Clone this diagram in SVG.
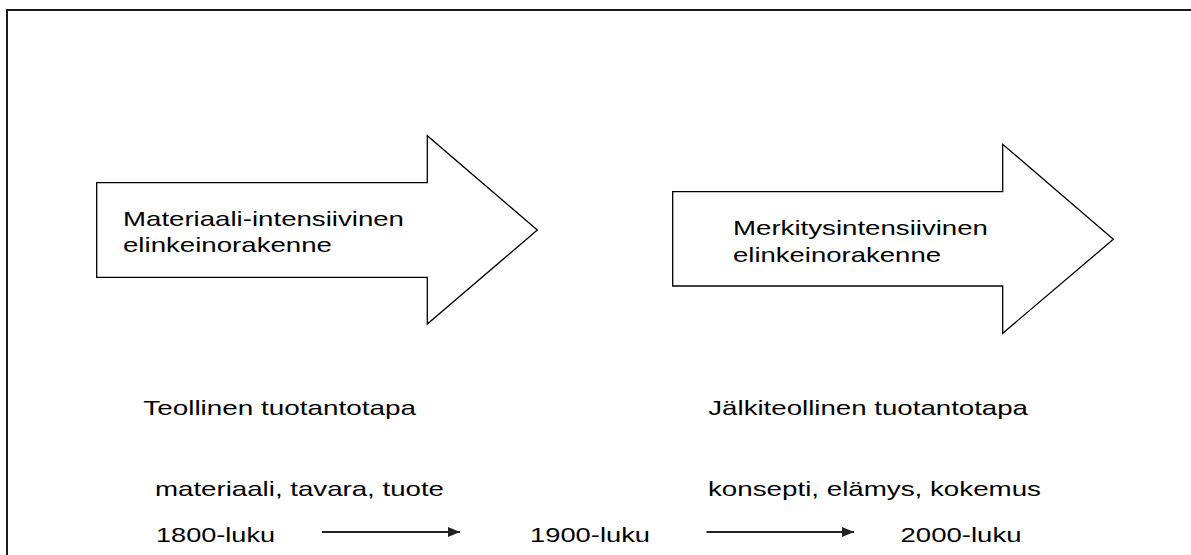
<svg xmlns="http://www.w3.org/2000/svg" width="1191" height="555" viewBox="0 0 1191 555">
<style>
.t{font-family:"Liberation Sans",Arial,sans-serif;font-size:21px;fill:#000}
.shape{fill:#fff;stroke:#000;stroke-width:1.3}
.frame{stroke:#1a1a1a;stroke-width:2;fill:none}
.conn{stroke:#222;stroke-width:2;fill:none}
</style>
<defs>
<marker id="ah" markerUnits="userSpaceOnUse" markerWidth="12" markerHeight="10" refX="12" refY="5" orient="auto">
<path d="M0,0 L12,5 L0,10 Z" fill="#222"/>
</marker>
</defs>
<rect width="1191" height="555" fill="#fff"/>
<g id="frame">
<line class="frame" x1="6" y1="10" x2="1191" y2="10"/>
<line class="frame" x1="7" y1="9" x2="7" y2="555"/>
</g>
<g id="arrow-left">
<polygon class="shape" points="96.7,182.7 427.3,182.7 427.3,135.7 537.3,230 427.3,324 427.3,277.3 96.7,277.3"/>
<text class="t" x="123" y="226" textLength="281" lengthAdjust="spacingAndGlyphs">Materiaali-intensiivinen</text>
<text class="t" x="123" y="252" textLength="209" lengthAdjust="spacingAndGlyphs">elinkeinorakenne</text>
</g>
<g id="arrow-right">
<polygon class="shape" points="672.7,191.7 1002.7,191.7 1002.7,144.3 1113.3,239.3 1002.7,333.3 1002.7,286 672.7,286"/>
<text class="t" x="733" y="235" textLength="255" lengthAdjust="spacingAndGlyphs">Merkitysintensiivinen</text>
<text class="t" x="733" y="261.7" textLength="208" lengthAdjust="spacingAndGlyphs">elinkeinorakenne</text>
</g>
<g id="label-teollinen">
<text class="t" x="143.3" y="415" textLength="272.7" lengthAdjust="spacingAndGlyphs">Teollinen tuotantotapa</text>
</g>
<g id="label-jalkiteollinen">
<text class="t" x="708.3" y="415" textLength="319.7" lengthAdjust="spacingAndGlyphs">Jälkiteollinen tuotantotapa</text>
</g>
<g id="label-materiaali">
<text class="t" x="155" y="496" textLength="289" lengthAdjust="spacingAndGlyphs">materiaali, tavara, tuote</text>
</g>
<g id="label-konsepti">
<text class="t" x="708" y="496" textLength="333" lengthAdjust="spacingAndGlyphs">konsepti, elämys, kokemus</text>
</g>
<g id="node-1800">
<text class="t" x="156" y="542" textLength="119" lengthAdjust="spacingAndGlyphs">1800-luku</text>
</g>
<g id="node-1900">
<text class="t" x="530" y="542" textLength="120" lengthAdjust="spacingAndGlyphs">1900-luku</text>
</g>
<g id="node-2000">
<text class="t" x="900.5" y="542" textLength="121" lengthAdjust="spacingAndGlyphs">2000-luku</text>
</g>
<g id="connectors">
<line class="conn" x1="322" y1="532" x2="460" y2="532" marker-end="url(#ah)"/>
<line class="conn" x1="706.5" y1="532" x2="854" y2="532" marker-end="url(#ah)"/>
</g>
</svg>
